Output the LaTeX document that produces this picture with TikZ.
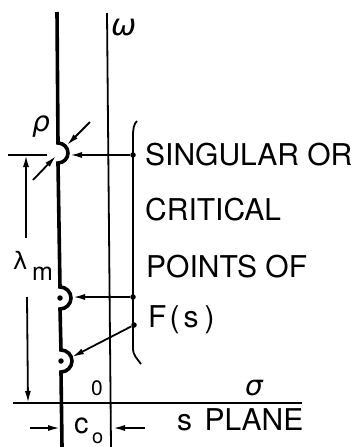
\documentclass[tikz,border=0pt]{standalone}
\usepackage{fontspec}
\setmainfont{TeX Gyre Heros}
\newfontfamily\greekfont{DejaVu Sans}
\usetikzlibrary{arrows.meta}
\begin{document}
\begin{tikzpicture}[x=1pt,y=-1pt,
  thinline/.style={line width=1.8pt},
  contour/.style={line width=3.6pt},
  arr/.style={thinline,-{Latex[length=12pt,width=6pt]}},
  lbl/.style={inner sep=0pt,anchor=base west,font=\fontsize{30}{30}\selectfont},
  greek/.style={inner sep=0pt,anchor=base west,font=\greekfont\itshape\fontsize{28}{28}\selectfont},
  dot/.style={circle,fill,inner sep=0pt,minimum size=5.5pt}]
\useasboundingbox (0,0) rectangle (356,447);

% axes
\coordinate (wtop) at (107,13);
\coordinate (wbot) at (111,447);
\draw[thinline] (wtop) -- (wbot);
\coordinate (sl) at (13,403);
\coordinate (sr) at (302,403);
\draw[thinline] (sl) -- (sr);

% contour with indentations
\draw[contour] (57,12) -- (58,143) arc[start angle=-90,end angle=90,radius=10]
  -- (60,287) arc[start angle=-90,end angle=90,radius=11]
  -- (61,350) arc[start angle=-90,end angle=90,radius=11]
  -- (62,447);

% singular points
\node[dot] (p2) at (60,298) {};
\node[dot] (p3) at (61,361) {};

% bracket with dots
\draw[thinline] (137,121) .. controls (134,124) and (133,128) .. (133,136)
  -- (133,348) .. controls (133,356) and (137,358) .. (141,364);
\node[dot] (b1) at (133,155) {};
\node[dot] (b2) at (133,297) {};
\node[dot] (b3) at (134,325) {};

% arrows to singular points
\coordinate (t1) at (70,155);
\coordinate (t2) at (73,297);
\coordinate (t3) at (72,357);
\draw[arr] (b1) -- (t1);
\draw[arr] (b2) -- (t2);
\draw[arr] (b3) -- (t3);

% rho dimension
\coordinate (r1s) at (90,122);
\coordinate (r1e) at (67,145);
\coordinate (r2s) at (33,180);
\coordinate (r2e) at (56,156);
\draw[arr] (r1s) -- (r1e);
\draw[arr] (r2s) -- (r2e);
\node[greek] (rho) at (32,131) {ρ};

% lambda_m dimension
\coordinate (ext1) at (8,155);
\coordinate (ext2) at (47,155);
\draw[thinline] (ext1) -- (ext2);
\coordinate (lt) at (26,155);
\coordinate (lta) at (26,238);
\coordinate (lba) at (27,297);
\coordinate (lb) at (28,403);
\draw[arr] (lta) -- (lt);
\draw[arr] (lba) -- (lb);
\node[inner sep=0pt,anchor=base west,font=\greekfont\fontsize{24}{24}\selectfont] (lam) at (13,269) {\char"03BB};
\node[inner sep=0pt,anchor=base west,font=\fontsize{25}{25}\selectfont] (msub) at (32,280) {m};

% c_o dimension
\coordinate (cl) at (30,428);
\coordinate (cle) at (60,428);
\coordinate (cr) at (145,428);
\coordinate (cre) at (113,428);
\draw[arr] (cl) -- (cle);
\draw[arr] (cr) -- (cre);
\node[inner sep=0pt,anchor=base west,font=\fontsize{29}{29}\selectfont] (c) at (74,433) {c};
\node[inner sep=0pt,anchor=base west,font=\fontsize{20}{20}\selectfont] (co) at (92,443) {o};

% axis labels
\node[greek,font=\greekfont\itshape\fontsize{30}{30}\selectfont] (omega) at (111,35) {ω};
\node[greek] (sigma) at (245,395) {σ};
\node[inner sep=0pt,anchor=base west,font=\fontsize{21}{21}\selectfont] (zero) at (91,395) {0};

% texts
\node[lbl] (t1txt) at (145,165) {SINGULAR OR};
\node[lbl] (t2txt) at (145,220) {CRITICAL};
\node[lbl] (t3txt) at (146,277) {POINTS OF};
\node[lbl] (t4txt) at (148,327) {F\kern3pt(\kern4pt s\kern6pt)};
\node[lbl] (splane) at (177,430) {s\hspace{4pt} PLANE};
\end{tikzpicture}
\end{document}
